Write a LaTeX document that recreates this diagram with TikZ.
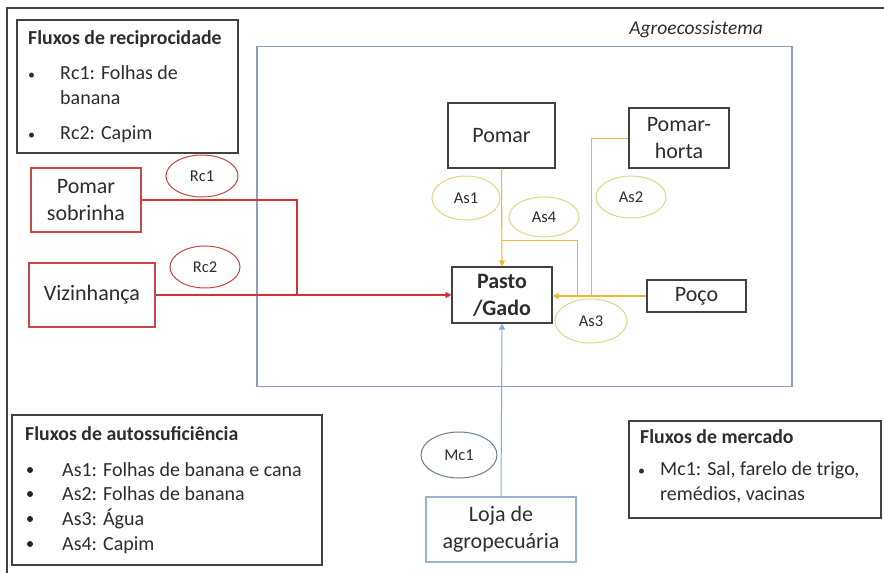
\documentclass[tikz,border=0pt]{standalone}
\usepackage{fontspec}
\setmainfont{Carlito}
\usetikzlibrary{arrows.meta,shapes.geometric}
\definecolor{dk}{RGB}{65,65,65}
\definecolor{txt}{RGB}{45,45,45}
\definecolor{rbox}{RGB}{200,70,70}
\definecolor{rline}{RGB}{215,50,50}
\definecolor{yell}{RGB}{228,212,135}
\definecolor{yline}{RGB}{240,185,50}
\definecolor{agro}{RGB}{140,160,185}
\definecolor{bline}{RGB}{130,170,215}
\definecolor{lbox}{RGB}{150,180,210}
\definecolor{mell}{RGB}{105,125,150}
\begin{document}
\begin{tikzpicture}[x=1pt,y=-1pt,
  every node/.style={text=txt},
  box/.style={rectangle,line width=1.1pt,inner sep=0pt,align=center,font=\fontsize{22}{27}\selectfont},
  ell/.style={ellipse,draw=yell,line width=1pt,inner sep=0pt,font=\fontsize{16.5}{19}\selectfont},
  lt/.style={anchor=base west,inner sep=0pt,font=\fontsize{20}{24}\selectfont},
  ltit/.style={anchor=base west,inner sep=0pt,font=\bfseries\fontsize{19.8}{23}\selectfont},
  arr/.style={-{Triangle[length=6pt,width=6pt]}},
  ]
\useasboundingbox (0,0) rectangle (884,573);
\fill[white] (0,0) rectangle (884,573);
% outer frame (top and left edges)
\coordinate (ftl) at (7,8);
\coordinate (ftr) at (884,8);
\coordinate (fbl) at (7,573);
\draw[dk,line width=1.2pt] (ftr) -- (ftl) -- (fbl);

% agroecosystem frame
\node[draw=agro,line width=1.1pt,minimum width=535pt,minimum height=340pt,inner sep=0pt] (agro) at (524.5,216.5) {};
\node[anchor=base east,inner sep=0pt,font=\itshape\fontsize{19.5}{23}\selectfont] (agrolbl) at (763,34) {Agroecossistema};

% reciprocity legend
\node[draw=dk,line width=1.1pt,minimum width=221pt,minimum height=133pt,inner sep=0pt] (recbox) at (127.5,86.5) {};
\node[ltit] (rect) at (28,44) {Fluxos de reciprocidade};
\node[lt] (recb1) at (28,79) {\fontsize{14}{14}\selectfont •};
\node[lt] (rec1) at (60,79) {Rc1: Folhas de};
\node[lt] (rec1b) at (60,104) {banana};
\node[lt] (recb2) at (28,139) {\fontsize{14}{14}\selectfont •};
\node[lt] (rec2) at (60,139) {Rc2: Capim};

% self-sufficiency legend
\node[draw=dk,line width=1.1pt,minimum width=310pt,minimum height=150pt,inner sep=0pt] (autbox) at (167,490) {};
\node[ltit] (autt) at (25,440) {Fluxos de autossuficiência};
\foreach \yy/\tt [count=\i] in {476/{As1: Folhas de banana e cana},500/{As2: Folhas de banana},525/{As3: Água},550/{As4: Capim}}{
  \fill[black!85] (30,\yy-6) circle (3pt);
  \node[lt] (aut\i) at (62,\yy) {\tt};
}

% market legend
\node[draw=dk,line width=1.1pt,minimum width=252pt,minimum height=97pt,inner sep=0pt] (merbox) at (755,469.5) {};
\node[ltit] (mert) at (640,443) {Fluxos de mercado};
\node[lt] (merb) at (638,475) {\fontsize{14}{14}\selectfont •};
\node[lt] (mer1) at (660,475) {Mc1: Sal, farelo de trigo,};
\node[lt] (mer2) at (660,500) {remédios, vacinas};

% nodes
\node[box,draw=rbox,minimum width=110pt,minimum height=64pt] (pomarsob) at (86,200) {Pomar\\sobrinha};
\node[box,draw=rbox,minimum width=126pt,minimum height=64pt] (viz) at (92,295) {Vizinhança};
\node[box,draw=dk,minimum width=107pt,minimum height=65pt] (pomar) at (501.5,135.5) {Pomar};
\node[box,draw=dk,minimum width=100pt,minimum height=60pt] (phorta) at (679,138) {Pomar-\\horta};
\node[box,draw=dk,minimum width=100pt,minimum height=56pt,font=\bfseries\fontsize{22}{27}\selectfont] (pasto) at (502,295) {Pasto\\/Gado};
\node[box,draw=dk,minimum width=99pt,minimum height=32pt] (poco) at (696.5,296) {Poço};
\node[box,draw=lbox,minimum width=150pt,minimum height=65pt] (loja) at (501,529.5) {Loja de\\agropecuária};

% ellipses
\node[ell,draw=rbox,minimum width=72pt,minimum height=42pt] (rc1) at (202,176) {Rc1};
\node[ell,draw=rbox,minimum width=70pt,minimum height=42pt] (rc2) at (205,267) {Rc2};
\node[ell,minimum width=68pt,minimum height=44pt] (as1) at (466,198) {As1};
\node[ell,minimum width=70pt,minimum height=40pt] (as4) at (544,217) {As4};
\node[ell,minimum width=70pt,minimum height=42pt] (as2) at (631,197) {As2};
\node[ell,minimum width=72pt,minimum height=44pt] (as3) at (591,321) {As3};
\node[ell,draw=mell,minimum width=76pt,minimum height=46pt] (mc1) at (459,455) {Mc1};

% red flows
\coordinate (rj) at (297,295);
\draw[rline,line width=1.1pt] (pomarsob.east) -| (rj);
\draw[rline,line width=1.1pt,arr] (viz.east) -- (pasto.west);

% yellow flows
\coordinate (y4a) at (501.5,240);
\coordinate (y4b) at (577,240);
\coordinate (y4c) at (577,295);
\coordinate (y2a) at (591,138);
\coordinate (y2b) at (591,295);
\draw[yline,line width=1.1pt,arr] (pomar.south) -- (pasto.north);
\draw[yline,line width=1pt] (y4a) -- (y4b) -- (y4c);
\draw[yline,line width=1pt] (phorta.west) -- (y2a) -- (y2b);
\draw[yline,line width=1.1pt,arr] (poco.west) -- (poco.west -| pasto.east);

% blue flow
\draw[bline,line width=1pt,arr] (loja.north) -- (pasto.south);
\end{tikzpicture}
\end{document}
